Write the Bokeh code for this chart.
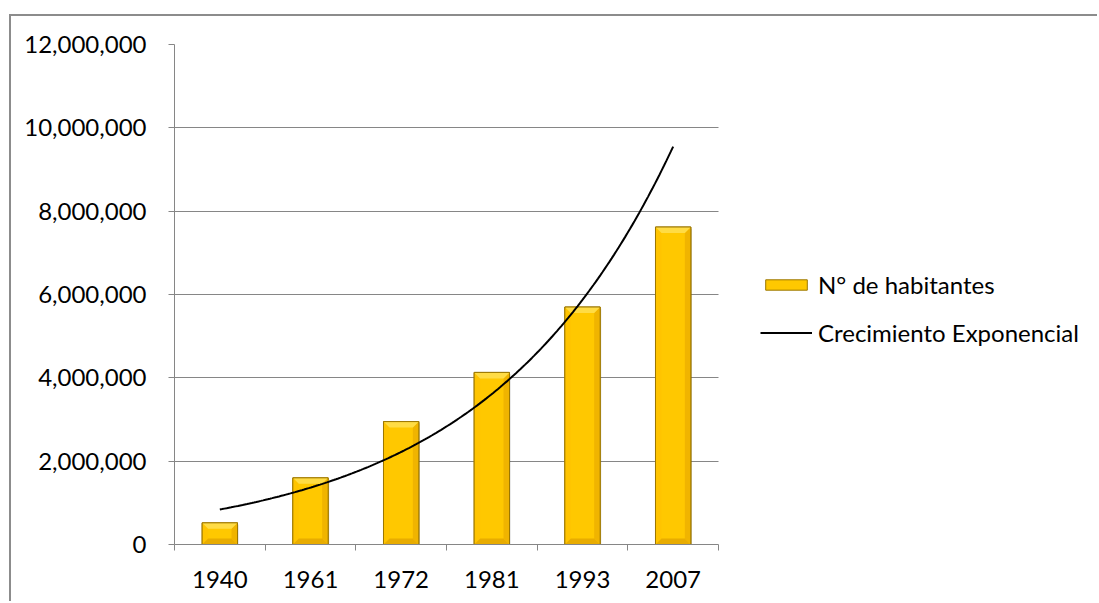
import numpy as np
from bokeh.plotting import figure
from bokeh.models import (Range1d, FixedTicker, NumeralTickFormatter, Legend, LegendItem)
from bokeh.embed import file_html
from bokeh.resources import INLINE

# ---- data ----
years = ["1940", "1961", "1972", "1981", "1993", "2007"]
habitantes = [520000, 1600000, 2950000, 4130000, 5700000, 7620000]
# exponential trend line (Excel trendline) read at first and last category
trend_first = 840000
trend_last = 9550000
y_ticks = [0, 2000000, 4000000, 6000000, 8000000, 10000000, 12000000]

FONT = "Lato"
GRID = "#868686"

W, H = 1088, 587
ML, MT, MB, MR = 163, 28, 59, 0
frame_w = W - ML - MR            # whole frame, legend lives inside it
plot_w = 544                      # width of the category area
frame_h = H - MT - MB
n = len(years)
x_max = n * frame_w / plot_w

p = figure(width=W, height=H, output_backend="svg", toolbar_location=None,
           x_range=Range1d(0, x_max), y_range=Range1d(0, 12000000),
           min_border_left=ML, min_border_top=MT, min_border_bottom=MB,
           min_border_right=MR)
p.styles = {"border-top": "2px solid #8c8c8c", "border-left": "2px solid #8c8c8c",
            "margin-top": "14px", "margin-left": "9px"}
p.outline_line_color = None
p.background_fill_color = "white"
p.border_fill_color = "white"

bevel_px = 6
dx = bevel_px * n / plot_w
dy = bevel_px * 12000000 / frame_h

centers = [i + 0.5 for i in range(n)]
half = 0.195
lefts = [c - half for c in centers]
rights = [c + half for c in centers]

top_xs, top_ys, bot_xs, bot_ys, lft_xs, lft_ys, rgt_xs, rgt_ys = [], [], [], [], [], [], [], []
for L, R, T in zip(lefts, rights, habitantes):
    B = 0
    top_xs.append([L, R, R - dx, L + dx]); top_ys.append([T, T, T - dy, T - dy])
    bot_xs.append([L, R, R - dx, L + dx]); bot_ys.append([B, B, B + dy, B + dy])
    lft_xs.append([L, L, L + dx, L + dx]); lft_ys.append([B, T, T - dy, B + dy])
    rgt_xs.append([R, R, R - dx, R - dx]); rgt_ys.append([B, T, T - dy, B + dy])

p.xgrid.grid_line_color = None
g = p.ygrid[0]
if "cross_bounds" in g.properties():
    g.grid_line_color = GRID
    g.grid_line_width = 1
    g.cross_bounds = (0, n)
else:
    g.grid_line_color = None
    p.segment(x0=[0] * (len(y_ticks) - 1), x1=[n] * (len(y_ticks) - 1),
              y0=y_ticks[1:], y1=y_ticks[1:], line_color=GRID, line_width=1)

# soft shadow
p.quad(left=[l + 0.012 for l in lefts], right=[r + 0.012 for r in rights],
       bottom=[0] * n, top=[h - 40000 for h in habitantes],
       fill_color="#000000", fill_alpha=0.15, line_color=None)

bars = p.quad(left=lefts, right=rights, bottom=[0] * n, top=habitantes,
              fill_color="#FFC800", line_color="#9C7700", line_width=1)
p.patches(xs=lft_xs, ys=lft_ys, fill_color="#FFC400", line_color=None)
p.patches(xs=rgt_xs, ys=rgt_ys, fill_color="#F0B400", line_color=None)
p.patches(xs=bot_xs, ys=bot_ys, fill_color="#E8AC00", line_color=None)
p.patches(xs=top_xs, ys=top_ys, fill_color="#FFDC45", line_color=None)
p.quad(left=lefts, right=rights, bottom=[0] * n, top=habitantes,
       fill_color=None, line_color="#9C7700", line_width=1)

# exponential trend
tx = np.linspace(centers[0], centers[-1], 200)
b = np.log(trend_last / trend_first) / (centers[-1] - centers[0])
ty = trend_first * np.exp(b * (tx - centers[0]))
trend = p.line(tx, ty, line_color="black", line_width=2)

# axes
xa = p.xaxis[0]
xa.bounds = (0, n)
xa.ticker = FixedTicker(ticks=centers, minor_ticks=list(range(n + 1)))
xa.major_label_overrides = {c: y for c, y in zip(centers, years)}
xa.major_tick_line_color = None
xa.major_tick_out = 0
xa.major_tick_in = 0
xa.minor_tick_line_color = GRID
xa.minor_tick_out = 6
xa.minor_tick_in = 0
xa.axis_line_color = GRID
xa.major_label_standoff = 20

ya = p.yaxis[0]
ya.ticker = FixedTicker(ticks=y_ticks)
ya.formatter = NumeralTickFormatter(format="0,0")
ya.major_tick_line_color = GRID
ya.major_tick_out = 6
ya.major_tick_in = 0
ya.minor_tick_line_color = None
ya.axis_line_color = GRID
ya.major_label_standoff = 22

for ax in (xa, ya):
    ax.major_label_text_font = FONT
    ax.major_label_text_font_size = "24px"
    ax.major_label_text_color = "black"

legend = Legend(items=[LegendItem(label="N° de habitantes", renderers=[bars]),
                       LegendItem(label="Crecimiento Exponencial", renderers=[trend])],
                location=(586, 197))
legend.label_text_font = FONT
legend.label_text_font_size = "24px"
legend.label_text_color = "black"
legend.glyph_width = 52
legend.glyph_height = 13
legend.label_height = 26
legend.spacing = 19
legend.label_standoff = 6
legend.padding = 0
legend.margin = 0
legend.border_line_color = None
legend.background_fill_alpha = 0
p.add_layout(legend)

open("out.html", "w").write(file_html(p, INLINE))
